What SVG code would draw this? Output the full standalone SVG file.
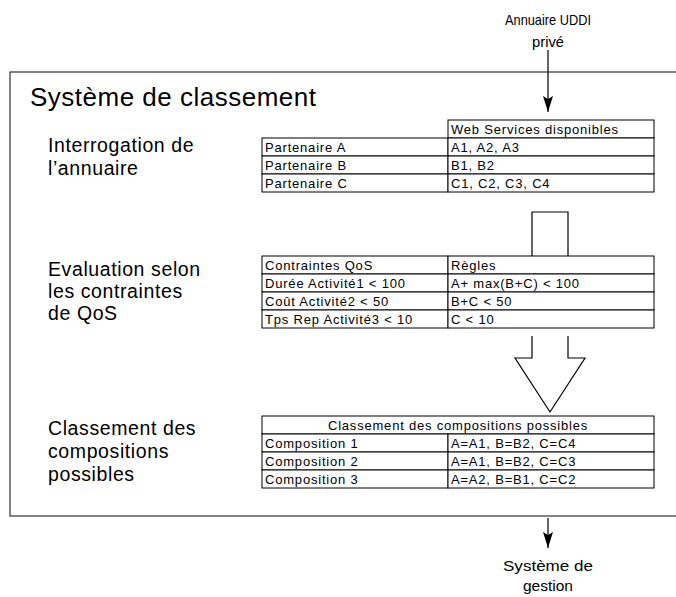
<svg xmlns="http://www.w3.org/2000/svg" width="676" height="597" viewBox="0 0 676 597">
<style>
text{font-family:"Liberation Sans",Arial,sans-serif;fill:#000}
.t{font-size:13px;letter-spacing:0.8px}
.lbl{font-size:19.5px;letter-spacing:0.6px}
.ttl{font-size:26px;letter-spacing:0.5px}
.ext{font-size:15px}
.cell{fill:#fff;stroke:#000;stroke-width:1}
.ln{fill:none;stroke:#000;stroke-width:1.2}
</style>
<defs>
<marker id="ah" viewBox="0 0 16 10" refX="16" refY="5" markerWidth="16" markerHeight="10" markerUnits="userSpaceOnUse" orient="auto">
<path d="M0,0 L3,5 L0,10 L16,5 Z" fill="#000"/>
</marker>
</defs>
<rect width="676" height="597" fill="#fff"/>
<g id="systeme">
<rect x="10" y="72" width="700" height="444" fill="none" stroke="#333" stroke-width="1.2"/>
<text class="ttl" x="30" y="106">Système de classement</text>
</g>
<g id="annuaire">
<text class="ext" x="505" y="25" textLength="86" lengthAdjust="spacingAndGlyphs">Annuaire UDDI</text>
<text class="ext" x="532" y="47" textLength="32" lengthAdjust="spacingAndGlyphs">privé</text>
</g>
<g id="gestion">
<text class="ext" x="503" y="571" textLength="90" lengthAdjust="spacingAndGlyphs">Système de</text>
<text class="ext" x="523" y="591" textLength="50" lengthAdjust="spacingAndGlyphs">gestion</text>
</g>
<g id="label-interrogation">
<text class="lbl" x="48" y="152">Interrogation de</text>
<text class="lbl" x="48" y="175">l’annuaire</text>
</g>
<g id="label-evaluation">
<text class="lbl" x="48" y="276">Evaluation selon</text>
<text class="lbl" x="48" y="298">les contraintes</text>
<text class="lbl" x="48" y="320">de QoS</text>
</g>
<g id="label-classement">
<text class="lbl" x="48" y="435">Classement des</text>
<text class="lbl" x="48" y="458">compositions</text>
<text class="lbl" x="48" y="481">possibles</text>
</g>
<g id="table-ws">
<rect class="cell" x="448" y="120" width="206" height="18"/>
<rect class="cell" x="262" y="138" width="186" height="18"/>
<rect class="cell" x="448" y="138" width="206" height="18"/>
<rect class="cell" x="262" y="156" width="186" height="18"/>
<rect class="cell" x="448" y="156" width="206" height="18"/>
<rect class="cell" x="262" y="174" width="186" height="18"/>
<rect class="cell" x="448" y="174" width="206" height="18"/>
<text class="t" x="451" y="133.5">Web Services disponibles</text>
<text class="t" x="265" y="151.5">Partenaire A</text>
<text class="t" x="451" y="151.5">A1, A2, A3</text>
<text class="t" x="265" y="169.5">Partenaire B</text>
<text class="t" x="451" y="169.5">B1, B2</text>
<text class="t" x="265" y="187.5">Partenaire C</text>
<text class="t" x="451" y="187.5">C1, C2, C3, C4</text>
</g>
<g id="table-qos">
<rect class="cell" x="262" y="256" width="186" height="18"/>
<rect class="cell" x="448" y="256" width="206" height="18"/>
<rect class="cell" x="262" y="274" width="186" height="18"/>
<rect class="cell" x="448" y="274" width="206" height="18"/>
<rect class="cell" x="262" y="292" width="186" height="18"/>
<rect class="cell" x="448" y="292" width="206" height="18"/>
<rect class="cell" x="262" y="310" width="186" height="18"/>
<rect class="cell" x="448" y="310" width="206" height="18"/>
<text class="t" x="265" y="269.5">Contraintes QoS</text>
<text class="t" x="451" y="269.5">Règles</text>
<text class="t" x="265" y="287.5">Durée Activité1 &lt; 100</text>
<text class="t" x="451" y="287.5">A+ max(B+C) &lt; 100</text>
<text class="t" x="265" y="305.5">Coût Activité2 &lt; 50</text>
<text class="t" x="451" y="305.5">B+C &lt; 50</text>
<text class="t" x="265" y="323.5">Tps Rep Activité3 &lt; 10</text>
<text class="t" x="451" y="323.5">C &lt; 10</text>
</g>
<g id="table-classement">
<rect class="cell" x="262" y="416" width="392" height="18"/>
<rect class="cell" x="262" y="434" width="186" height="18"/>
<rect class="cell" x="448" y="434" width="206" height="18"/>
<rect class="cell" x="262" y="452" width="186" height="18"/>
<rect class="cell" x="448" y="452" width="206" height="18"/>
<rect class="cell" x="262" y="470" width="186" height="18"/>
<rect class="cell" x="448" y="470" width="206" height="18"/>
<text class="t" x="458" y="429.5" text-anchor="middle">Classement des compositions possibles</text>
<text class="t" x="265" y="447.5">Composition 1</text>
<text class="t" x="451" y="447.5">A=A1, B=B2, C=C4</text>
<text class="t" x="265" y="465.5">Composition 2</text>
<text class="t" x="451" y="465.5">A=A1, B=B2, C=C3</text>
<text class="t" x="265" y="483.5">Composition 3</text>
<text class="t" x="451" y="483.5">A=A2, B=B1, C=C2</text>
</g>
<g id="connectors">
<line x1="548" y1="50" x2="548" y2="112" stroke="#000" stroke-width="1.2" marker-end="url(#ah)"/>
<path class="ln" d="M532,256 V212 H568 V256"/>
<path class="ln" d="M532,336 V358 H515 L550,412 L585,358 H568 V336"/>
<line x1="548" y1="518" x2="548" y2="548" stroke="#000" stroke-width="1.2" marker-end="url(#ah)"/>
</g>
</svg>
